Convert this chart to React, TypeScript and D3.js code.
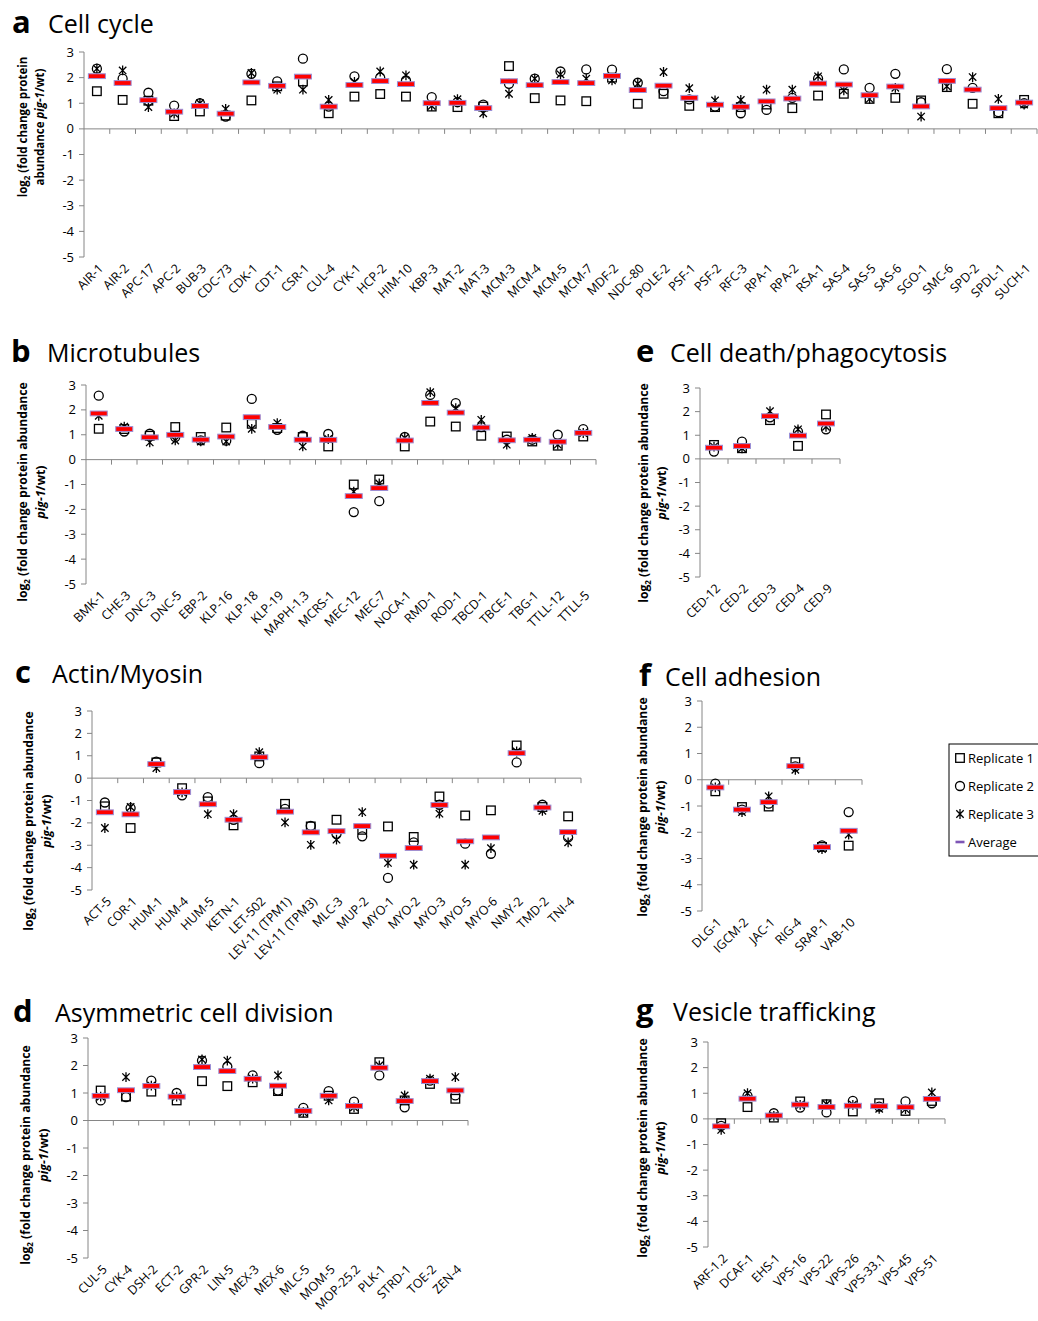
import * as d3 from 'd3';
import React from 'react';

// replicate 1 = square, replicate 2 = circle, replicate 3 = star; average is computed

// a  Cell cycle
const cellCycleGenes = ['AIR-1', 'AIR-2', 'APC-17', 'APC-2', 'BUB-3', 'CDC-73', 'CDK-1', 'CDT-1', 'CSR-1', 'CUL-4',
  'CYK-1', 'HCP-2', 'HIM-10', 'KBP-3', 'MAT-2', 'MAT-3', 'MCM-3', 'MCM-4', 'MCM-5', 'MCM-7', 'MDF-2', 'NDC-80',
  'POLE-2', 'PSF-1', 'PSF-2', 'RFC-3', 'RPA-1', 'RPA-2', 'RSA-1', 'SAS-4', 'SAS-5', 'SAS-6', 'SGO-1', 'SMC-6',
  'SPD-2', 'SPDL-1', 'SUCH-1'];
const cellCycleRep1 = [1.47, 1.13, 1.10, 0.50, 0.68, 0.52, 1.11, 1.66, 1.85, 0.61, 1.26, 1.36, 1.26, 0.87, 0.85, 0.87,
  2.45, 1.20, 1.11, 1.08, 2.00, 0.98, 1.37, 0.90, 0.85, 0.85, 0.95, 0.81, 1.30, 1.37, 1.17, 1.21, 1.11, 1.63, 0.98, 0.61, 1.13];
const cellCycleRep2 = [2.35, 1.96, 1.41, 0.91, 1.00, 0.48, 2.15, 1.85, 2.74, 0.87, 2.05, 2.00, 1.89, 1.24, 1.04, 0.95,
  1.76, 1.96, 2.24, 2.32, 2.31, 1.80, 1.47, 1.15, 0.87, 0.61, 0.74, 1.21, 1.96, 2.32, 1.60, 2.15, 1.04, 2.33, 1.60, 0.65, 1.00];
const cellCycleRep3 = [2.35, 2.28, 0.85, 0.60, 1.00, 0.78, 2.18, 1.53, 1.53, 1.13, 1.83, 2.24, 2.09, 0.90, 1.16, 0.61,
  1.37, 1.96, 2.13, 1.96, 1.89, 1.76, 2.22, 1.59, 1.11, 1.13, 1.53, 1.53, 2.05, 1.50, 1.17, 1.60, 0.48, 1.66, 2.02, 1.17, 0.95];

// b  Microtubules
const microtubuleGenes = ['BMK-1', 'CHE-3', 'DNC-3', 'DNC-5', 'EBP-2', 'KLP-16', 'KLP-18', 'KLP-19', 'MAPH-1.3',
  'MCRS-1', 'MEC-12', 'MEC-7', 'NOCA-1', 'RMD-1', 'ROD-1', 'TBCD-1', 'TBCE-1', 'TBG-1', 'TTLL-12', 'TTLL-5'];
const microtubuleRep1 = [1.24, 1.23, 0.96, 1.31, 0.91, 1.29, 1.44, 1.27, 0.91, 0.53, -1.00, -0.80, 0.53, 1.53, 1.33, 0.96, 0.93, 0.73, 0.56, 0.93];
const microtubuleRep2 = [2.57, 1.13, 1.04, 0.91, 0.77, 0.76, 2.44, 1.20, 0.96, 1.03, -2.11, -1.67, 0.91, 2.60, 2.27, 1.31, 0.80, 0.80, 1.00, 1.23];
const microtubuleRep3 = [1.76, 1.33, 0.69, 0.77, 0.73, 0.73, 1.24, 1.47, 0.53, 0.83, -1.29, -0.96, 0.87, 2.71, 2.07, 1.60, 0.60, 0.87, 0.60, 1.07];

// c  Actin/Myosin
const actinGenes = ['ACT-5', 'COR-1', 'HUM-1', 'HUM-4', 'HUM-5', 'KETN-1', 'LET-502', 'LEV-11 (TPM1)', 'LEV-11 (TPM3)',
  'MLC-3', 'MUP-2', 'MYO-1', 'MYO-2', 'MYO-3', 'MYO-5', 'MYO-6', 'NMY-2', 'TMD-2', 'TNI-4'];
const actinRep1 = [-1.26, -2.23, 0.70, -0.45, -1.04, -2.11, 0.97, -1.15, -2.16, -1.86, -2.31, -2.16, -2.63, -0.82, -1.67, -1.44, 1.46, -1.29, -1.71];
const actinRep2 = [-1.09, -1.34, 0.74, -0.77, -0.85, -1.86, 0.67, -1.37, -2.13, -2.50, -2.60, -4.46, -2.87, -1.19, -2.93, -3.38, 0.70, -1.19, -2.65];
const actinRep3 = [-2.23, -1.29, 0.45, -0.64, -1.61, -1.61, 1.16, -1.98, -2.98, -2.75, -1.52, -3.79, -3.87, -1.59, -3.87, -3.13, 1.19, -1.46, -2.87];

// d  Asymmetric cell division
const asymGenes = ['CUL-5', 'CYK-4', 'DSH-2', 'ECT-2', 'GPR-2', 'LIN-5', 'MEX-3', 'MEX-6', 'MLC-5', 'MOM-5',
  'MOP-25.2', 'PLK-1', 'STRD-1', 'TOE-2', 'ZEN-4'];
const asymRep1 = [1.09, 0.87, 1.05, 0.73, 1.43, 1.25, 1.39, 1.07, 0.28, 0.90, 0.42, 2.12, 0.73, 1.33, 0.79];
const asymRep2 = [0.73, 0.85, 1.45, 1.00, 2.18, 1.96, 1.64, 1.09, 0.46, 1.07, 0.69, 1.64, 0.48, 1.45, 0.91];
const asymRep3 = [0.87, 1.58, 1.27, 0.87, 2.22, 2.18, 1.52, 1.64, 0.30, 0.73, 0.48, 2.00, 0.91, 1.52, 1.58];

// e  Cell death/phagocytosis
const deathGenes = ['CED-12', 'CED-2', 'CED-3', 'CED-4', 'CED-9'];
const deathRep1 = [0.59, 0.45, 1.64, 0.55, 1.88];
const deathRep2 = [0.31, 0.73, 1.76, 1.15, 1.25];
const deathRep3 = [0.52, 0.45, 2.02, 1.25, 1.36];

// f  Cell adhesion
const adhesionGenes = ['DLG-1', 'IGCM-2', 'JAC-1', 'RIG-4', 'SRAP-1', 'VAB-10'];
const adhesionRep1 = [-0.44, -1.04, -1.02, 0.67, -2.56, -2.51];
const adhesionRep2 = [-0.15, -1.14, -0.91, 0.51, -2.50, -1.23];
const adhesionRep3 = [-0.29, -1.23, -0.63, 0.38, -2.64, -2.09];

// g  Vesicle trafficking
const vesicleGenes = ['ARF-1.2', 'DCAF-1', 'EHS-1', 'VPS-16', 'VPS-22', 'VPS-26', 'VPS-33.1', 'VPS-45', 'VPS-51'];
const vesicleRep1 = [-0.17, 0.46, 0.05, 0.68, 0.57, 0.29, 0.61, 0.31, 0.70];
const vesicleRep2 = [-0.27, 0.90, 0.22, 0.44, 0.25, 0.70, 0.48, 0.68, 0.61];
const vesicleRep3 = [-0.43, 1.00, 0.12, 0.55, 0.57, 0.55, 0.39, 0.38, 1.03];

const yTicks = [3, 2, 1, 0, -1, -2, -3, -4, -5];
const legendLabels = ['Replicate 1', 'Replicate 2', 'Replicate 3', 'Average'];

const FONT = "'Open Sans', 'DejaVu Sans', sans-serif";
const AXIS = '#868686';

// layout of each panel on the page
const panels = [
  { letter: 'a', title: 'Cell cycle', genes: cellCycleGenes, reps: [cellCycleRep1, cellCycleRep2, cellCycleRep3],
    lx: 12, tx: 48, ty: 33, x0: 84, x1: 1037, yTop: 52, yBot: 257, ax1: 27, ax2: 44, acy: 127, short: true },
  { letter: 'b', title: 'Microtubules', genes: microtubuleGenes, reps: [microtubuleRep1, microtubuleRep2, microtubuleRep3],
    lx: 11, tx: 47, ty: 362, x0: 86, x1: 596, yTop: 385, yBot: 584, ax1: 27, ax2: 45, acy: 492 },
  { letter: 'c', title: 'Actin/Myosin', genes: actinGenes, reps: [actinRep1, actinRep2, actinRep3],
    lx: 15, tx: 52, ty: 683, x0: 92, x1: 581, yTop: 711, yBot: 890, ax1: 33, ax2: 51, acy: 821 },
  { letter: 'd', title: 'Asymmetric cell division', genes: asymGenes, reps: [asymRep1, asymRep2, asymRep3],
    lx: 13, tx: 55, ty: 1022, x0: 88, x1: 468, yTop: 1038, yBot: 1258, ax1: 30, ax2: 48, acy: 1155 },
  { letter: 'e', title: 'Cell death/phagocytosis', genes: deathGenes, reps: [deathRep1, deathRep2, deathRep3],
    lx: 636, tx: 670, ty: 362, x0: 700, x1: 840, yTop: 388, yBot: 577, ax1: 648, ax2: 666, acy: 493 },
  { letter: 'f', title: 'Cell adhesion', genes: adhesionGenes, reps: [adhesionRep1, adhesionRep2, adhesionRep3],
    lx: 639, tx: 665, ty: 686, x0: 702, x1: 862, yTop: 701, yBot: 911, ax1: 647, ax2: 665, acy: 807 },
  { letter: 'g', title: 'Vesicle trafficking', genes: vesicleGenes, reps: [vesicleRep1, vesicleRep2, vesicleRep3],
    lx: 636, tx: 673, ty: 1021, x0: 708, x1: 945, yTop: 1042, yBot: 1247, ax1: 647, ax2: 665, acy: 1148 },
];

const Square = () => <rect x={-4.3} y={-4.3} width={8.6} height={8.6} fill="none" stroke="#000" strokeWidth={1.3} />;
const Circle = () => <circle r={4.5} fill="none" stroke="#000" strokeWidth={1.3} />;
const Star = () => <path d="M-3.7,-3.7L3.7,3.7M-3.7,3.7L3.7,-3.7M0,-4.9V4.9" fill="none" stroke="#000" strokeWidth={1.3} />;
const markers = [Square, Circle, Star];
const AvgBar = () => <rect x={-8.5} y={-2.4} width={17} height={4.8} fill="#ff0000" stroke="#9a8fd6" strokeWidth={1} />;

const YLabel = ({ p }) => {
  const rot = (x) => `rotate(-90, ${x}, ${p.acy})`;
  const common = { fontFamily: FONT, fontWeight: 700, fontSize: p.short ? 11.5 : 12.2, textAnchor: 'middle', fill: '#000' };
  return (
    <g>
      <text x={p.ax1} y={p.acy} transform={rot(p.ax1)} {...common}>
        log<tspan fontSize={8} dy={3}>2</tspan>
        <tspan dy={-3}>{p.short ? ' (fold change protein' : ' (fold change protein abundance'}</tspan>
      </text>
      <text x={p.ax2} y={p.acy} transform={rot(p.ax2)} {...common}>
        {p.short ? 'abundance ' : ''}<tspan fontStyle="italic">pig-1</tspan>/wt)
      </text>
    </g>
  );
};

const Panel = ({ p }) => {
  const x = d3.scaleBand().domain(p.genes).range([p.x0, p.x1]);
  const y = d3.scaleLinear().domain([-5, 3]).range([p.yBot, p.yTop]);
  const bw = x.bandwidth();
  const y0 = y(0);
  const avg = p.genes.map((g, i) => d3.mean(p.reps.map((r) => r[i])));

  return (
    <g>
      <text x={p.lx} y={p.ty} fontFamily={FONT} fontWeight={700} fontSize={31}>{p.letter}</text>
      <text x={p.tx} y={p.ty} fontFamily={FONT} fontSize={25}>{p.title}</text>
      <YLabel p={p} />

      {/* y axis */}
      <line x1={p.x0} x2={p.x0} y1={p.yTop} y2={p.yBot} stroke={AXIS} strokeWidth={1} />
      {yTicks.map((t) => (
        <g key={t}>
          <line x1={p.x0 - 5} x2={p.x0} y1={y(t)} y2={y(t)} stroke={AXIS} strokeWidth={1} />
          <text x={p.x0 - 10} y={y(t)} dy="0.35em" textAnchor="end" fontFamily={FONT} fontSize={13}>{t}</text>
        </g>
      ))}

      {/* x axis at zero */}
      <line x1={p.x0} x2={p.x1} y1={y0} y2={y0} stroke={AXIS} strokeWidth={1} />
      {p.genes.map((g, i) => (
        <line key={'t' + g} x1={p.x0 + (i + 1) * bw} x2={p.x0 + (i + 1) * bw} y1={y0} y2={y0 + 5} stroke={AXIS} strokeWidth={1} />
      ))}
      {p.genes.map((g) => (
        <text key={'l' + g} transform={`translate(${x(g) + bw / 2 + 4}, ${p.yBot + 9}) rotate(-45)`}
          dy="0.35em" textAnchor="end" fontFamily={FONT} fontSize={12.5}>{g}</text>
      ))}

      {/* replicate markers then average */}
      {p.reps.map((rep, k) => {
        const M = markers[k];
        return rep.map((v, i) => (
          <g key={k + '-' + i} transform={`translate(${x(p.genes[i]) + bw / 2}, ${y(v)})`}><M /></g>
        ));
      })}
      {avg.map((v, i) => (
        <g key={'avg' + i} transform={`translate(${x(p.genes[i]) + bw / 2}, ${y(v)})`}><AvgBar /></g>
      ))}
    </g>
  );
};

const Legend = () => {
  const lx = 949, ly = 744;
  const rowY = (i) => ly + 14 + i * 28;
  return (
    <g>
      <rect x={lx} y={ly} width={100} height={112} fill="#fff" stroke="#000" strokeWidth={1} />
      {legendLabels.map((label, i) => (
        <g key={label}>
          <g transform={`translate(${lx + 11}, ${rowY(i)})`}>
            {i < 3 ? React.createElement(markers[i]) : <rect x={-4.5} y={-1.3} width={9} height={2.6} fill="#7d55b5" />}
          </g>
          <text x={lx + 19} y={rowY(i)} dy="0.35em" fontFamily={FONT} fontSize={13}>{label}</text>
        </g>
      ))}
    </g>
  );
};

export default function App() {
  return (
    <div style={{ position: 'absolute', left: 0, top: 0 }}>
      <svg width={1038} height={1321} style={{ display: 'block', background: '#fff' }}>
        {panels.map((p) => <Panel key={p.letter} p={p} />)}
        <Legend />
      </svg>
    </div>
  );
}
